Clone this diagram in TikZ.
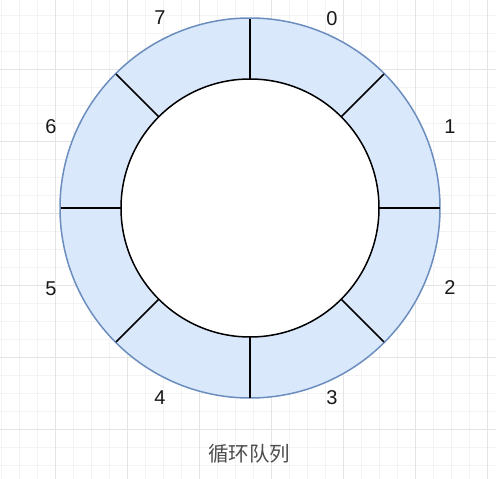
\documentclass[tikz,border=0pt]{standalone}
\usepackage{fontspec}
\usetikzlibrary{calc}
\setmainfont{Liberation Sans}
\newfontfamily\cjkfont{Noto Sans CJK SC}
\definecolor{gridminor}{HTML}{F3F3F3}
\definecolor{gridmajor}{HTML}{E4E4E4}
\definecolor{ringfill}{HTML}{DAE8FC}
\definecolor{ringdraw}{HTML}{6C8EBF}
\definecolor{captiongray}{HTML}{4D4D4D}
\tikzset{
  numlabel/.style={font=\fontsize{20}{20}\selectfont, text=black!90, inner sep=0pt},
  captionlabel/.style={font=\cjkfont\fontsize{20.5}{21}\selectfont, text=captiongray, inner sep=0pt},
  divider/.style={draw=black, line width=1.5pt},
}
\begin{document}
\begin{tikzpicture}[x=1pt,y=-1pt]
\useasboundingbox (0,0) rectangle (496,479);
\fill[white] (0,0) rectangle (496,479);
% grid
\foreach \k in {0,...,27}{
  \draw[gridminor, line width=1pt] ({1+18*\k},0) -- ({1+18*\k},479);
}
\foreach \k in {0,...,25}{
  \draw[gridminor, line width=1pt] (0,{15+18*\k}) -- (496,{15+18*\k});
}
\foreach \k in {0,...,6}{
  \draw[gridmajor, line width=1pt] ({55+72*\k},0) -- ({55+72*\k},479);
}
\foreach \k in {0,...,5}{
  \draw[gridmajor, line width=1pt] (0,{69+72*\k}) -- (496,{69+72*\k});
}
% ring
\coordinate (c) at (250,208);
\fill[ringfill] (c) circle[radius=190pt];
\draw[ringdraw, line width=1.5pt] (c) circle[radius=190pt];
\draw[black, fill=white, line width=1.5pt] (c) circle[radius=129pt];
\foreach \a in {0,45,...,315}{
  \coordinate (in\a) at ($(c)+(\a:129)$);
  \coordinate (out\a) at ($(c)+(\a:189.5)$);
  \draw[divider] (in\a) -- (out\a);
}
% labels
\node[numlabel] (l0) at (332,19) {0};
\node[numlabel] (l1) at (450,127) {1};
\node[numlabel] (l2) at (450,288) {2};
\node[numlabel] (l3) at (332,398) {3};
\node[numlabel] (l4) at (160,398) {4};
\node[numlabel] (l5) at (51,289) {5};
\node[numlabel] (l6) at (51,127) {6};
\node[numlabel] (l7) at (160,18) {7};
\node[captionlabel] (cap) at (249,454) {循环队列};
\end{tikzpicture}
\end{document}
